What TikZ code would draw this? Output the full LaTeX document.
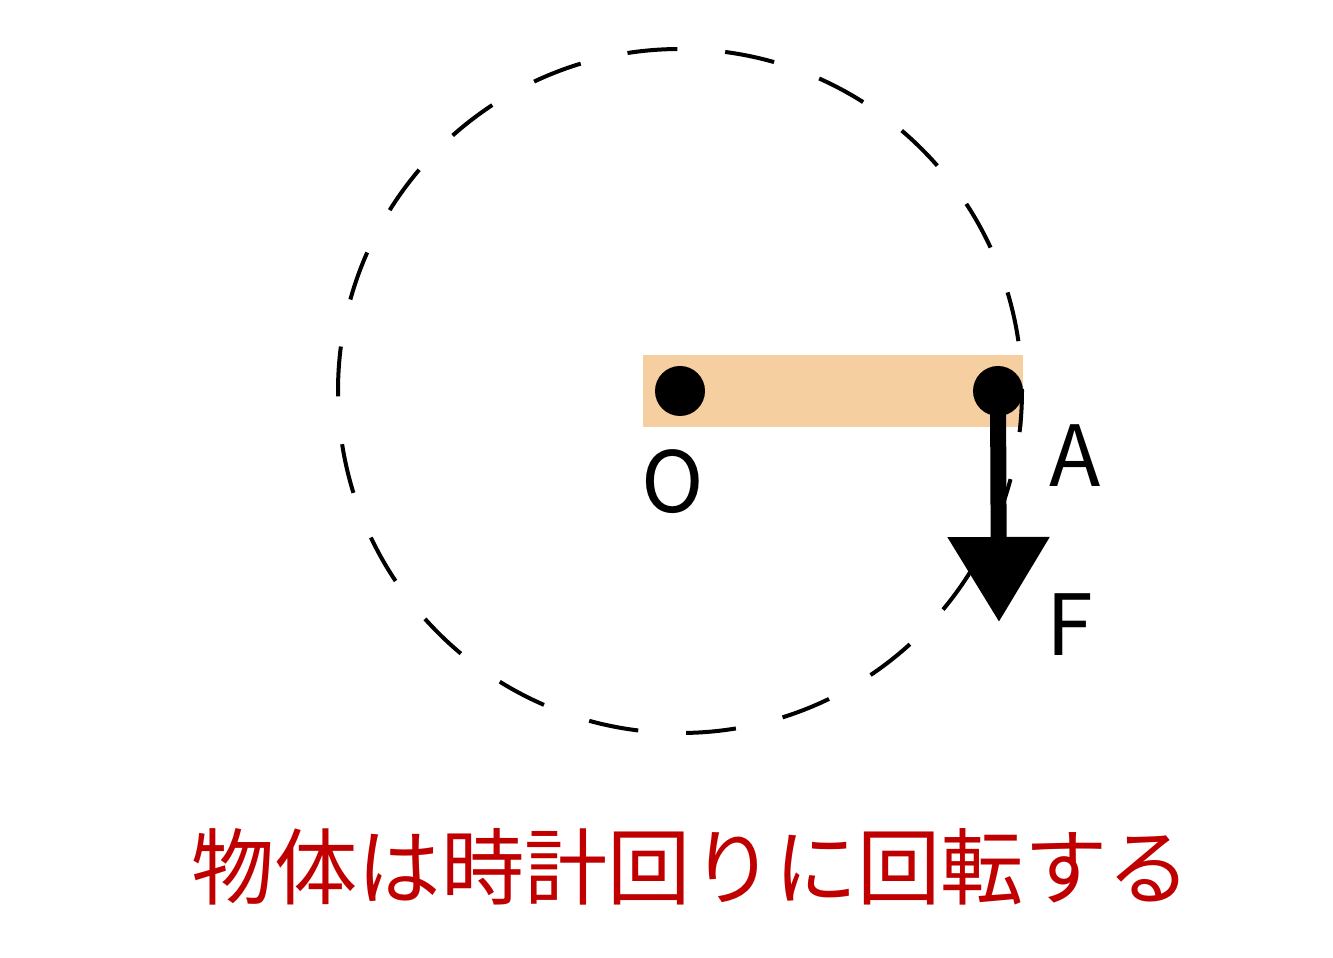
\documentclass[tikz,border=0pt]{standalone}
\usepackage{fontspec}
\setmainfont{Noto Sans CJK JP}
\usetikzlibrary{arrows.meta}
\definecolor{barfill}{HTML}{F5CF9F}
\definecolor{notered}{HTML}{C00000}
\tikzset{
  pivot/.style={circle,fill=black,inner sep=0pt,minimum size=0.5cm},
  ptlabel/.style={font=\fontsize{24}{28}\selectfont,text=black,inner sep=0pt},
}
\begin{document}
\begin{tikzpicture}
\useasboundingbox (0,0) rectangle (13.33,9.58);
\fill[barfill] (6.43,5.31) rectangle (10.23,6.03);
\draw[black,line width=0.04cm,dash pattern=on 0.5cm off 0.48cm,dash phase=0.48cm] (6.80,5.67) circle (3.42);
\node[pivot] (O) at (6.80,5.67) {};
\node[pivot] (A) at (9.98,5.67) {};
\coordinate (Ftip) at (9.99,3.36);
\draw[line width=0.16cm,-{Triangle[width=0.98cm,length=0.85cm]}] (A.center) -- (Ftip);

\node[ptlabel] (Olbl) at (6.73,4.76) {O};
\node[ptlabel] (Albl) at (10.75,5.02) {A};
\node[ptlabel] (Flbl) at (10.70,3.33) {F};
\node[font=\fontsize{23.7}{28}\selectfont,text=notered,inner sep=0pt] (note) at (6.91,0.91) {物体は時計回りに回転する};
\end{tikzpicture}
\end{document}
